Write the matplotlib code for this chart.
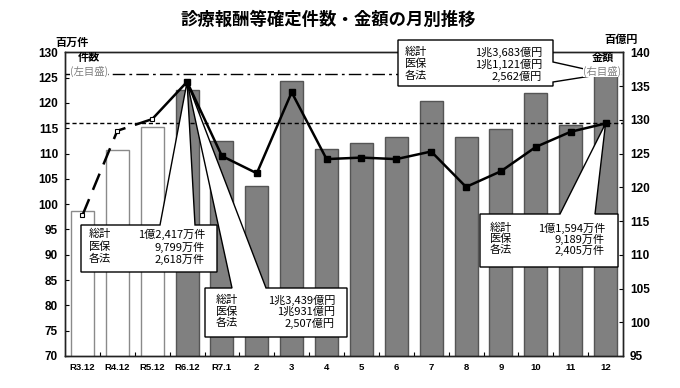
import numpy as np
import matplotlib
matplotlib.use('Agg')
import matplotlib.pyplot as plt
from matplotlib.patches import Polygon

plt.rcParams['font.family'] = ['Noto Sans CJK JP', 'DejaVu Sans']

# data
labels = ['R3.12', 'R4.12', 'R5.12', 'R6.12', 'R7.1', '2', '3', '4',
          '5', '6', '7', '8', '9', '10', '11', '12']
amount = [116.5, 125.5, 129.0, 134.39, 126.9, 120.2, 135.8, 125.6,
          126.6, 127.4, 132.8, 127.4, 128.6, 134.0, 129.2, 136.83]   # 百億円
count = [97.8, 114.5, 116.8, 124.17, 109.5, 106.1, 122.1, 108.9,
         109.2, 108.9, 110.4, 103.4, 106.5, 111.3, 114.3, 115.94]   # 百万件

box_cnt_peak = [('総計', '1億2,417万件'), ('医保', '9,799万件'), ('各法', '2,618万件')]
box_amt_peak = [('総計', '1兆3,439億円'), ('医保', '1兆931億円'), ('各法', '2,507億円')]
box_amt_last = [('総計', '1兆3,683億円'), ('医保', '1兆1,121億円'), ('各法', '2,562億円')]
box_cnt_last = [('総計', '1億1,594万件'), ('医保', '9,189万件'), ('各法', '2,405万件')]

W, H = 680, 388
AX_L, AX_R, AX_T, AX_B = 65, 623, 52.3, 356


def fx(px):
    return (px - AX_L) / (AX_R - AX_L)


def fy(py):
    return (AX_B - py) / (AX_B - AX_T)


fig = plt.figure(figsize=(W / 100, H / 100), dpi=100)
ax = fig.add_axes([AX_L / W, (H - AX_B) / H, (AX_R - AX_L) / W, (AX_B - AX_T) / H])
ax2 = ax.twinx()

x = np.arange(len(labels))
face = ['white'] * 3 + ['#808080'] * (len(labels) - 3)
edge = ['#8a8a8a'] * 3 + ['#555555'] * (len(labels) - 3)
ax.bar(x, amount, width=0.66, color=face, edgecolor=edge, linewidth=1)
ax.set_xlim(-0.5, len(labels) - 0.5)
ax.set_ylim(95, 140)
ax.set_yticks(range(95, 141, 5))
ax.yaxis.tick_right()
ax.axhline(amount[-1], color='k', lw=1, ls=(0, (9, 3, 2, 3)), zorder=5)

ax2.set_ylim(70, 130)
ax2.set_yticks(range(70, 131, 5))
ax2.yaxis.tick_left()
ax2.axhline(count[-1], color='k', lw=1, ls=(0, (3, 2)), zorder=2)

# line: dashed for the yearly points, solid for the monthly ones
ax2.plot(x[:3], count[:3], color='k', lw=1.8, dashes=(7, 4), zorder=4)
ax2.plot(x[2:], count[2:], color='k', lw=1.8, zorder=4)
ax2.plot(x[:3], count[:3], 's', ms=3.5, mfc='white', mec='k', mew=0.8, zorder=6)
ax2.plot(x[3:], count[3:], 's', ms=3.8, color='k', zorder=6)

for a in (ax, ax2):
    a.tick_params(axis='y', direction='in', length=3, width=0.8, labelsize=8.5, pad=5)
    for t in a.get_yticklabels():
        t.set_family(['Liberation Sans', 'DejaVu Sans'])
        t.set_fontweight('bold')
    for s in a.spines.values():
        s.set_color('#222222')
        s.set_linewidth(1)

ax.set_xticks(x)
ax.set_xticklabels(labels, fontsize=6.8, fontweight='bold',
                   family=['Liberation Sans', 'DejaVu Sans'])
ax.set_xticks(x[:-1] + 0.5, minor=True)
ax.tick_params(axis='x', which='major', length=0, pad=5)
ax.tick_params(axis='x', which='minor', direction='in', length=3, width=0.8)


def callout(src, xi, yi, box, base, side, rows, lab_x, val_x, row_y):
    p = src.transData.transform((xi, yi))
    apx, apy = ax2.transAxes.inverted().transform(p)
    x0, y0, x1, y1 = fx(box[0]), fy(box[3]), fx(box[2]), fy(box[1])
    if side == 'top':
        b0, b1 = fx(base[0]), fx(base[1])
        verts = [(x0, y0), (x0, y1), (b0, y1), (apx, apy), (b1, y1), (x1, y1), (x1, y0)]
    else:
        b0, b1 = fy(base[1]), fy(base[0])
        verts = [(x0, y0), (x0, y1), (x1, y1), (x1, b1), (apx, apy), (x1, b0), (x1, y0)]
    ax2.add_patch(Polygon(verts, closed=True, transform=ax2.transAxes, fc='white',
                          ec='k', lw=1, clip_on=False, zorder=3))
    for (lab, val), ry in zip(rows, row_y):
        ax2.text(fx(lab_x), fy(ry), lab, transform=ax2.transAxes, fontsize=8,
                 va='center', ha='left', zorder=7)
        ax2.text(fx(val_x), fy(ry), val, transform=ax2.transAxes, fontsize=8,
                 va='center', ha='right', zorder=7)


callout(ax2, x[3], count[3], (81, 225, 217, 272), (160, 195), 'top',
        box_cnt_peak, 89, 205, (234, 247, 259))
callout(ax2, x[3], count[3], (205, 288, 347, 337), (232, 266), 'top',
        box_amt_peak, 216, 335, (300, 312, 323))
callout(ax, x[-1], amount[-1], (398, 40, 553, 86), (62, 82), 'right',
        box_amt_last, 405, 542, (52, 64, 76))
callout(ax2, x[-1], count[-1], (480, 214, 618, 267), (560, 595), 'top',
        box_cnt_last, 490, 605, (228, 239, 250))

# axis captions
def ftext(px, py, s, **kw):
    fig.text(px / W, 1 - py / H, s, ha='center', va='center', **kw)


ftext(328, 20, '診療報酬等確定件数・金額の月別推移', fontsize=12.5, fontweight='bold')
ftext(72, 42, '百万件', fontsize=8, fontweight='bold')
ftext(621, 39, '百億円', fontsize=8, fontweight='bold')
ftext(89, 57, '件数', fontsize=8, fontweight='bold')
ftext(603, 57, '金額', fontsize=8, fontweight='bold')
ftext(89, 71, '(左目盛)', fontsize=7.5, color='#808080', zorder=10,
      bbox=dict(fc='white', ec='none', pad=0.3))
ftext(602, 71, '(右目盛)', fontsize=7.5, color='#808080', zorder=10,
      bbox=dict(fc='white', ec='none', pad=0.3))

plt.savefig('out.png', dpi=100)
